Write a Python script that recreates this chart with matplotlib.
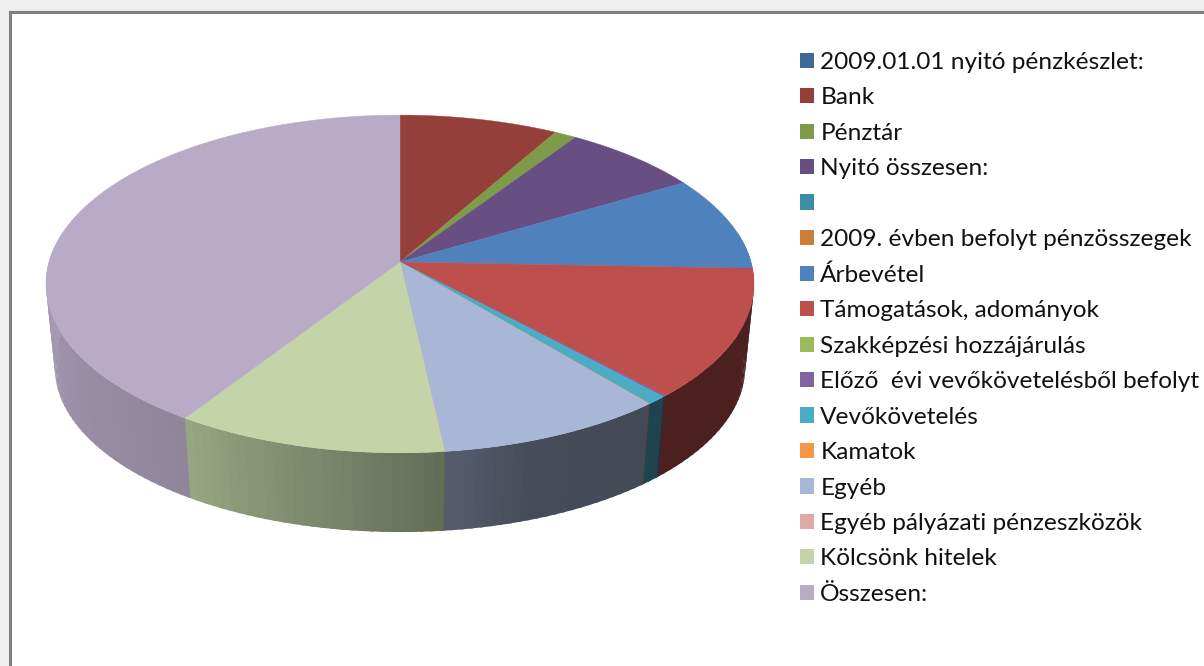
#!/usr/bin/env python3
# -*- coding: utf-8 -*-
import numpy as np
import matplotlib
matplotlib.use('Agg')
import matplotlib.pyplot as plt
from matplotlib.patches import Patch, Rectangle

plt.rcParams['font.family'] = ['Lato', 'DejaVu Sans']

labels = ['2009.01.01 nyitó pénzkészlet:', 'Bank', 'Pénztár', 'Nyitó összesen:', ' ',
          '2009. évben befolyt pénzösszegek', 'Árbevétel', 'Támogatások, adományok',
          'Szakképzési hozzájárulás', 'Előző  évi vevőkövetelésből befolyt', 'Vevőkövetelés',
          'Kamatok', 'Egyéb', 'Egyéb pályázati pénzeszközök', 'Kölcsönk hitelek', 'Összesen:']
# share of the pie in percent
values = [0, 8.2, 1.15, 7.15, 0, 0, 9.1, 12.4, 0, 0.12, 0.82, 0.03, 9.23, 0.03, 10.95, 40.8]
colors = ['#3f6797', '#953f3b', '#7f9a48', '#674f84', '#3a8ea6', '#cc7d38', '#4f81bd', '#bd4f4d',
          '#9bbb59', '#8064a2', '#4bacc6', '#f79646', '#a8b7d6', '#dbaaa9', '#c3d5a8', '#b7abc6']

# side wall shading against the angle
shade_angle = [140, 160, 174, 213, 270]
shade_value = [0.40, 0.41, 0.51, 0.78, 0.90]

A, B, P = 351, 166, 0.13


def project(theta, scale=1.0, y0=262):
    r = np.radians(theta)
    d = 1 + P * np.cos(r)
    return 400 + scale * A * np.sin(r) / d, y0 - scale * B * np.cos(r) / d


fig = plt.figure(figsize=(12.04, 6.66), dpi=100, facecolor='#efefef')
ax = fig.add_axes([0, 0, 1, 1])
ax.set_xlim(0, 1204)
ax.set_ylim(666, 0)
ax.axis('off')
ax.add_patch(Rectangle((9.5, 12), 1300, 800, fc='white', ec='#808080', lw=2.2, zorder=0))

total = sum(values)
edges = np.concatenate([[0], np.cumsum(values)]) / total * 360

# side wall first, the top covers what is hidden
# each strip runs a little under the next one so no seams show
for i in range(len(values)):
    if values[i] == 0:
        continue
    lo = max(edges[i], 80)
    hi = min(edges[i + 1], 280)
    if hi <= lo:
        continue
    steps = np.linspace(lo, hi, int((hi - lo) / 1.5) + 2)
    for a, b in zip(steps[:-1], steps[1:]):
        t = np.linspace(a, b + 0.5, 4)
        x1, y1 = project(t)
        x2, y2 = project(t[::-1], 0.975, 346)
        f = np.interp((a + b) / 2, shade_angle, shade_value)
        c = np.array(matplotlib.colors.to_rgb(colors[i])) * f
        ax.fill(np.r_[x1, x2], np.r_[y1, y2], color=c, lw=0, zorder=1)

# top of the pie
for i in range(len(values)):
    if values[i] == 0:
        continue
    t = np.linspace(edges[i], edges[i + 1], max(int(values[i] * 8), 3))
    x, y = project(t)
    ax.fill(np.r_[400, x], np.r_[262, y], color=colors[i], lw=0.3, zorder=2)

handles = [Patch(fc=c, ec='none') for c in colors]
ax.legend(handles, labels, loc='upper left', bbox_to_anchor=(800 / 1204, 1 - 52 / 666),
          frameon=False, fontsize=17.6, handlelength=0.58, handleheight=0.58,
          handletextpad=0.25, labelspacing=0.59, borderpad=0, borderaxespad=0,
          labelcolor='#111111')

plt.savefig('out.png', dpi=100, facecolor=fig.get_facecolor())
